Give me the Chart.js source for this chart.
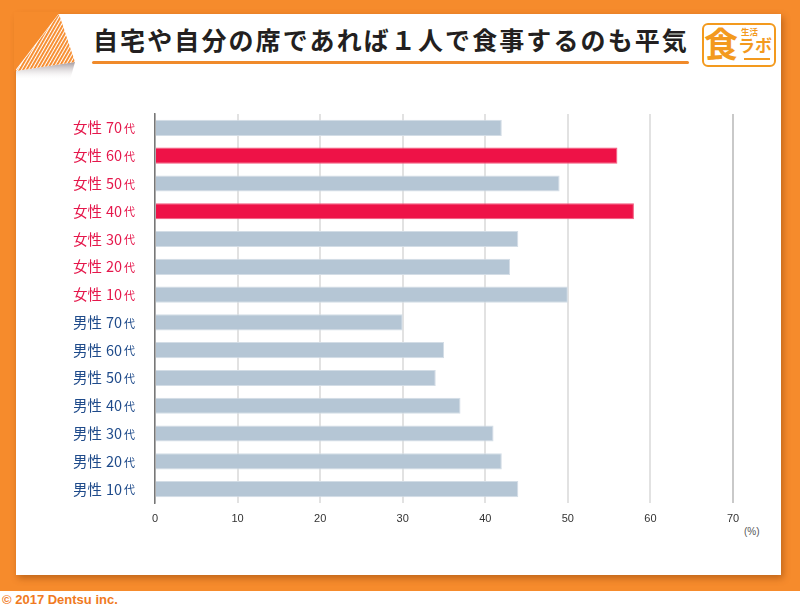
<!DOCTYPE html>
<html>
<head>
<meta charset="utf-8">
<script src="https://cdn.jsdelivr.net/npm/chart.js@4/dist/chart.umd.min.js"></script>
<style>
  html, body { margin: 0; padding: 0; }
  body { width: 800px; height: 610px; position: relative; overflow: hidden; background: #fff; font-family: "Noto Sans CJK JP", sans-serif; }
  #bg { position: absolute; left: 0; top: 0; width: 800px; height: 591px; background: #f68b2c; }
  #card { position: absolute; left: 16px; top: 14px; width: 765px; height: 561px; background: #fff; box-shadow: 2px 3px 7px rgba(120, 50, 0, 0.45); }
  #corner { position: absolute; left: 0; top: 0; }
  #title { position: absolute; left: 93px; top: 24px; font-size: 25px; font-weight: bold; color: #231f20; letter-spacing: 2.1px; line-height: 30px; white-space: nowrap; }
  #underline { position: absolute; left: 92px; top: 61px; width: 597px; height: 3px; border-radius: 2px; background: #f08a2a; }
  #logo { position: absolute; left: 702px; top: 23px; width: 70px; height: 40px; border: 2.5px solid #f39a1e; border-radius: 6px; color: #f39a1e; white-space: nowrap; }
  #logo span { position: absolute; white-space: nowrap; }
  #logo .big { left: 0px; top: -3px; font-size: 34px; font-weight: bold; line-height: 42px; }
  #logo .small { left: 37px; top: 1px; font-size: 8.5px; font-weight: bold; line-height: 10px; }
  #logo .labo { left: 34px; top: 10px; font-size: 17px; font-weight: bold; line-height: 20px; letter-spacing: 0px; }
  #logo .arrow { left: 40px; top: 33px; width: 26px; height: 2px; background: #f39a1e; }
  #pct { position: absolute; left: 744px; top: 526px; font-size: 10px; color: #555; font-family: "Liberation Sans Narrow", "Liberation Sans", sans-serif; }
  #copy { position: absolute; left: 2px; top: 592px; font-size: 13px; font-weight: bold; color: #f07a22; font-family: "Liberation Sans", Arial, sans-serif; }
  #chart { position: absolute; left: 0; top: 0; }
</style>
</head>
<body>
<div id="bg"></div>
<div id="card"></div>
<svg id="corner" width="100" height="100">
  <defs>
    <pattern id="stripes" width="3" height="10" patternUnits="userSpaceOnUse" patternTransform="rotate(30)">
      <rect width="3" height="10" fill="#fff"/>
      <rect width="1.9" height="10" fill="#f68b2c"/>
    </pattern>
    <linearGradient id="shade" x1="0" y1="0" x2="0" y2="1">
      <stop offset="0" stop-color="#7a6a70" stop-opacity="0.7"/>
      <stop offset="1" stop-color="#ffffff" stop-opacity="0"/>
    </linearGradient>
  </defs>
  <polygon points="14,12 60,12 14,72" fill="#f68b2c"/>
  <polygon points="16,71 75,62 70,80 16,78" fill="url(#shade)"/>
  <polygon points="59,14 16,71 75,62" fill="url(#stripes)"/>
</svg>
<div id="title">自宅や自分の席であれば１人で食事するのも平気</div>
<div id="underline"></div>
<div id="logo">
  <span class="big">食</span>
  <span class="small">生活</span>
  <span class="labo">ラボ</span>
  <span class="arrow"></span>
</div>
<div id="pct">(%)</div>
<div id="copy">© 2017 Dentsu inc.</div>
<canvas id="chart" width="800" height="610"></canvas>
<script>
const categories = ['女性 70代', '女性 60代', '女性 50代', '女性 40代', '女性 30代', '女性 20代', '女性 10代',
                    '男性 70代', '男性 60代', '男性 50代', '男性 40代', '男性 30代', '男性 20代', '男性 10代'];
const values = [42, 56, 49, 58, 44, 43, 50, 30, 35, 34, 37, 41, 42, 44];
const highlighted = ['女性 60代', '女性 40代'];
const xTicks = [0, 10, 20, 30, 40, 50, 60, 70];

const femaleColor = '#e5174b';
const maleColor = '#1e4a8a';

// y labels drawn by hand so that "代" can be smaller
const yLabels = {
  id: 'yLabels',
  afterDraw(chart) {
    const ctx = chart.ctx;
    const y = chart.scales.y;
    const right = y.left - 20;
    ctx.save();
    ctx.textAlign = 'right';
    ctx.textBaseline = 'middle';
    categories.forEach((c, i) => {
      const py = y.getPixelForTick(i);
      const parts = c.slice(0, -1).split(' ');
      const suf = c.slice(-1);
      ctx.fillStyle = c.startsWith('女性') ? femaleColor : maleColor;
      ctx.font = '11px "Noto Sans CJK JP"';
      ctx.fillText(suf, right, py + 1);
      let x = right - ctx.measureText(suf).width - 2;
      ctx.font = '14.5px "Noto Sans CJK JP"';
      ctx.fillText(parts[1], x, py);
      x -= ctx.measureText(parts[1]).width + 4;
      ctx.fillText(parts[0], x, py);
    });
    ctx.restore();
  }
};

new Chart(document.getElementById('chart'), {
  type: 'bar',
  data: {
    labels: categories,
    datasets: [{
      data: values,
      backgroundColor: c => highlighted.includes(categories[c.dataIndex]) ? '#ee1247' : '#b5c6d5',
      borderColor: c => highlighted.includes(categories[c.dataIndex]) ? '#f25a7d' : '#d3dde6',
      borderWidth: 1,
      borderSkipped: 'start',
      barPercentage: 0.58,
      categoryPercentage: 1
    }]
  },
  options: {
    indexAxis: 'y',
    responsive: false,
    animation: false,
    layout: { padding: { left: 155, right: 67, top: 114, bottom: 77 } },
    plugins: { legend: { display: false }, tooltip: { enabled: false } },
    scales: {
      x: {
        min: 0,
        max: 70,
        afterBuildTicks: s => { s.ticks = xTicks.map(v => ({ value: v })); },
        afterFit: s => { s.height = 30; },
        grid: {
          color: c => c.tick && c.tick.value === 70 ? '#c9c9c9' : '#e2e2e2',
          lineWidth: 2,
          drawTicks: false
        },
        border: { display: false },
        ticks: {
          padding: 9,
          color: '#333',
          font: { size: 11, family: '"Liberation Sans Narrow", "Liberation Sans", sans-serif' }
        }
      },
      y: {
        afterFit: s => { s.width = 0; },
        grid: { display: false },
        border: { display: true, color: '#777', width: 1.5 },
        ticks: { display: false }
      }
    }
  },
  plugins: [yLabels]
});
</script>
</body>
</html>
